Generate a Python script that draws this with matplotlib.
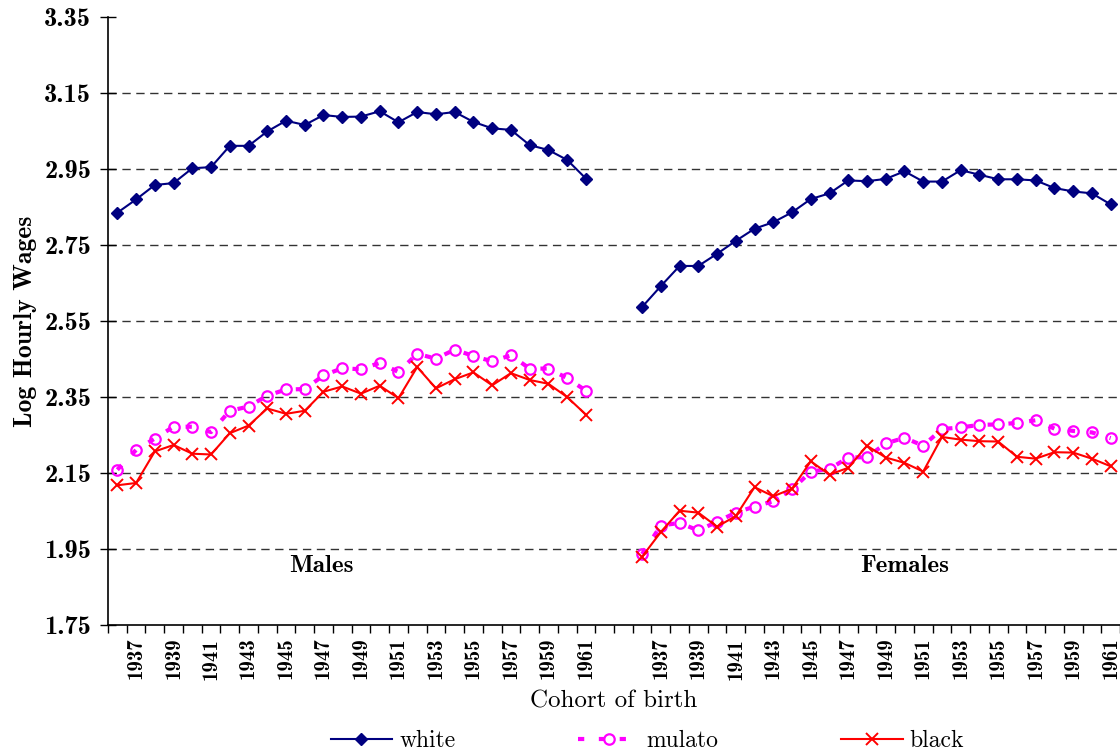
import numpy as np
import matplotlib.pyplot as plt

years = list(range(1936, 1962))

white_males = [2.835, 2.870, 2.908, 2.913, 2.952, 2.955, 3.011, 3.011, 3.049, 3.077,
               3.066, 3.092, 3.087, 3.088, 3.102, 3.073, 3.100, 3.094, 3.100, 3.074,
               3.057, 3.053, 3.013, 3.000, 2.974, 2.925]
mulato_males = [2.159, 2.211, 2.241, 2.272, 2.272, 2.258, 2.314, 2.325, 2.354, 2.370,
                2.371, 2.407, 2.426, 2.423, 2.440, 2.416, 2.464, 2.451, 2.475, 2.458,
                2.444, 2.460, 2.425, 2.425, 2.400, 2.367]
black_males = [2.118, 2.124, 2.207, 2.224, 2.201, 2.199, 2.255, 2.275, 2.320, 2.306,
               2.314, 2.364, 2.378, 2.359, 2.380, 2.347, 2.429, 2.373, 2.397, 2.415,
               2.381, 2.413, 2.395, 2.385, 2.350, 2.304]

white_females = [2.587, 2.642, 2.695, 2.695, 2.727, 2.761, 2.793, 2.810, 2.836, 2.871,
                 2.886, 2.920, 2.918, 2.924, 2.944, 2.917, 2.917, 2.947, 2.935, 2.923,
                 2.923, 2.920, 2.900, 2.891, 2.886, 2.857]
mulato_females = [1.937, 2.012, 2.019, 1.999, 2.022, 2.046, 2.062, 2.076, 2.107, 2.154,
                  2.161, 2.191, 2.192, 2.228, 2.243, 2.222, 2.266, 2.270, 2.277, 2.278,
                  2.282, 2.289, 2.267, 2.261, 2.257, 2.242]
black_females = [1.930, 1.995, 2.051, 2.046, 2.009, 2.037, 2.113, 2.089, 2.109, 2.181,
                 2.146, 2.164, 2.222, 2.191, 2.177, 2.154, 2.245, 2.238, 2.234, 2.233,
                 2.193, 2.188, 2.205, 2.204, 2.188, 2.168]

gap = 2  # empty categories between the two panels
n = len(years)

def join(m, f):
    return np.array(list(m) + [np.nan] * gap + list(f))

x = np.arange(2 * n + gap)
cat_labels = [str(y) if y % 2 == 1 else "" for y in years]
cat_labels = cat_labels + [""] * gap + cat_labels

bold = "cmb10"
roman = "cmr10"

fig = plt.figure(figsize=(11.2, 7.55), dpi=100)
ax = fig.add_axes([0.0964, 0.172, 0.9036, 0.8055])

ax.plot(x, join(white_males, white_females), color="#000080", lw=1.5,
        marker="D", ms=6.5, label="white")
ax.plot(x, join(mulato_males, mulato_females), color="#FF00FF", lw=3,
        linestyle=(0, (1.5, 3.5)), marker="o", ms=7.5, mfc="none", mew=1.6,
        label="mulato")
ax.plot(x, join(black_males, black_females), color="#FF0000", lw=1.5,
        marker="x", ms=8, mew=1.4, label="black")

ax.set_xlim(-0.5, len(x) - 0.5)
ax.set_ylim(1.75, 3.35)
yt = np.round(np.arange(1.75, 3.36, 0.2), 2)
ax.set_yticks(yt)
ax.set_yticklabels([f"{v:.2f}" for v in yt], fontfamily=bold, fontsize=19)
for v in yt[1:-1]:
    ax.axhline(v, color="#333333", lw=1, linestyle=(0, (6, 4)), zorder=0)

# ticks between categories, labels at category centres
ax.set_xticks(np.arange(-0.5, len(x), 1))
ax.set_xticklabels([])
ax.set_xticks(x, minor=True)
ax.set_xticklabels(cat_labels, minor=True, rotation=90, fontfamily=bold, fontsize=15)
ax.tick_params(axis="x", which="major", direction="out", length=6, width=1)
ax.tick_params(axis="x", which="minor", length=0, pad=9)
ax.tick_params(axis="y", direction="inout", length=12, width=1, pad=6)

for s in ["top", "right"]:
    ax.spines[s].set_visible(False)
for s in ["left", "bottom"]:
    ax.spines[s].set_linewidth(1.2)

ax.set_ylabel("Log Hourly Wages", fontfamily=bold, fontsize=18.5, labelpad=5)
ax.set_xlabel("Cohort of birth", fontfamily=roman, fontsize=18, labelpad=8)

ax.text(10.9, 1.905, "Males", fontfamily=bold, fontsize=18, ha="center", va="center")
ax.text(42.0, 1.905, "Females", fontfamily=bold, fontsize=18, ha="center", va="center")

fig.legend(loc="center", bbox_to_anchor=(0.578, 0.018), ncol=3, frameon=False,
           prop={"family": roman, "size": 17}, columnspacing=5.2, handlelength=2.6,
           handletextpad=0.3)

fig.savefig("out.png", dpi=100)
